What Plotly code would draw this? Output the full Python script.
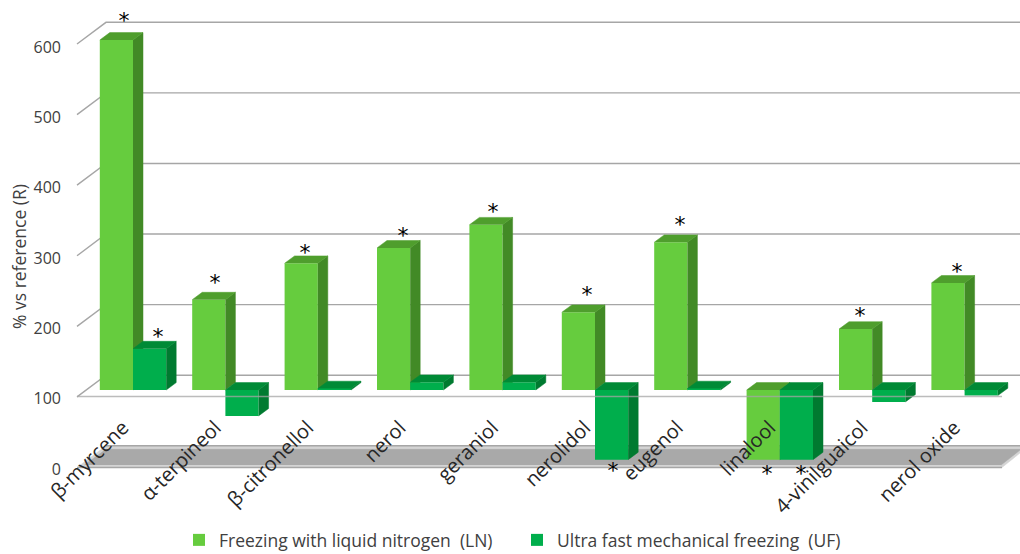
import plotly.graph_objects as go

categories = ["β-myrcene", "α-terpineol", "β-citronellol", "nerol", "geraniol", "nerolidol",
              "eugenol", "linalool", "4-vinilguaicol", "nerol oxide"]
ln_values = [600, 229, 281, 303, 336, 211, 311, 0.5, 187, 253]
uf_values = [159, 63, 102, 111, 111, 0.5, 102, 0.5, 83, 92]

# asterisks
star_px_x = [124, 158, 215, 305, 403, 493, 587, 613, 680, 767, 801, 860, 957]
star_px_y = [17, 333, 279, 249, 232, 208, 291, 467, 221, 470, 470, 312, 268]
y_ticks = [0, 100, 200, 300, 400, 500, 600]

LN_FRONT, LN_SIDE, LN_TOP = "#66cc3e", "#428a26", "#4f9e2d"
UF_FRONT, UF_SIDE, UF_TOP = "#00ae4c", "#007a30", "#008a36"
TEXT = "#404040"
FONT = "Open Sans"

W, H = 1020, 554
FIG_H = H + 8  # slightly taller than the window so the legend does not shrink the plot
PLOT_H = 520
PX_PER_CAT = 92.4
X0_PX = 133
X_RANGE = [-X0_PX / PX_PER_CAT, (W - X0_PX) / PX_PER_CAT]
# front-plane scale used by the bars
BAR_K = 0.70
BAR_RANGE = [100 + (390 - PLOT_H) / BAR_K, 100 + 390 / BAR_K]
# scale of the grid box
GRID_K = 0.7058
GRID_RANGE = [(467.5 - PLOT_H) / GRID_K, 467.5 / GRID_K]
# scale of the printed tick labels
TICK_K = 0.7033
TICK_RANGE = [(469 - PLOT_H) / TICK_K, 469 / TICK_K]

BAR_W = 33.2 / PX_PER_CAT
BAR_DX = 10 / PX_PER_CAT
BAR_DY = 7.4 / BAR_K
WALL_DX = 29 / PX_PER_CAT
WALL_DY = 21.7 / GRID_K
GRID_L = (77 - X0_PX) / PX_PER_CAT
GRID_R = (1002 - X0_PX) / PX_PER_CAT
GRID_FAR = (1060 - X0_PX) / PX_PER_CAT
FLOOR_FAR = (1029 - X0_PX) / PX_PER_CAT
GRID = "#a6a6a6"

fig = go.Figure()


def poly(xs, ys, color, ax):
    fig.add_trace(go.Scatter(x=xs, y=ys, mode="lines", fill="toself", fillcolor=color,
                             line=dict(color=color, width=0.5), hoverinfo="skip",
                             showlegend=False, xaxis="x" + ax, yaxis="y" + ax))


def line(xs, ys, color=GRID, width=1.4):
    fig.add_trace(go.Scatter(x=xs, y=ys, mode="lines", line=dict(color=color, width=width),
                             hoverinfo="skip", showlegend=False, xaxis="x", yaxis="y"))


# floor at zero
poly([GRID_L, GRID_L + WALL_DX, FLOOR_FAR, GRID_R], [0, WALL_DY, WALL_DY, 0], "#d4d4d4", "")
poly([GRID_L + 0.08, GRID_L + WALL_DX, (1021 - X0_PX) / PX_PER_CAT, GRID_R - 0.01],
     [3.5, WALL_DY - 5, WALL_DY - 5, 3.5], "#a9a9a9", "")
line([GRID_L, GRID_R], [0, 0])
line([GRID_L + WALL_DX, GRID_FAR], [WALL_DY, WALL_DY])

# wall grid lines with their left connectors
for t in y_ticks[1:]:
    line([GRID_L, GRID_L + WALL_DX, GRID_FAR], [t, t + WALL_DY, t + WALL_DY])


def bar_set(values, offset, name, front, side, top, ax):
    xs = [i + offset for i in range(len(values))]
    fig.add_trace(go.Bar(x=xs, y=[v - 100 for v in values], base=100, width=BAR_W, name=name,
                         marker=dict(color=front, line=dict(width=0)), xaxis="x" + ax, yaxis="y" + ax))
    for x, v in zip(xs, values):
        r = x + BAR_W / 2
        l = x - BAR_W / 2
        hi = max(v, 100)
        poly([r, r + BAR_DX, r + BAR_DX, r], [100, 100 + BAR_DY, v + BAR_DY, v], side, ax)
        poly([l, l + BAR_DX, r + BAR_DX, r], [hi, hi + BAR_DY, hi + BAR_DY, hi], top, ax)


bar_set(ln_values, -BAR_W / 2, "Freezing with liquid nitrogen\u00a0 (LN)", LN_FRONT, LN_SIDE, LN_TOP, "2")
bar_set(uf_values, BAR_W / 2, "Ultra fast mechanical freezing\u00a0 (UF)", UF_FRONT, UF_SIDE, UF_TOP, "3")

# front line of the 100 floor, visible through the bars
fig.add_trace(go.Scatter(x=[GRID_L, GRID_R], y=[100 - 6.5 / BAR_K] * 2, mode="lines",
                         line=dict(color="rgba(166,166,166,0.75)", width=1.6), hoverinfo="skip",
                         showlegend=False, xaxis="x4", yaxis="y4"))

# asterisks
fig.add_trace(go.Scatter(x=[(p - X0_PX) / PX_PER_CAT for p in star_px_x],
                         y=[100 + (390 - (p + 5)) / BAR_K for p in star_px_y],
                         mode="text", text=["*"] * len(star_px_x), textposition="middle center",
                         textfont=dict(family="DejaVu Sans", size=22, color="#000000"),
                         hoverinfo="skip", showlegend=False, xaxis="x4", yaxis="y5"))

# invisible trace that carries the printed value axis
fig.add_trace(go.Scatter(x=[0] * len(y_ticks), y=y_ticks, mode="markers", marker=dict(opacity=0),
                         hoverinfo="skip", showlegend=False, xaxis="x4", yaxis="y6"))

no_axis = dict(visible=False, domain=[0, 1])
layout = dict(
    width=W, height=FIG_H, margin=dict(l=0, r=0, t=0, b=FIG_H - PLOT_H), paper_bgcolor="white", plot_bgcolor="white",
    barmode="overlay", font=dict(family=FONT, size=15, color=TEXT),
    xaxis=dict(range=X_RANGE, domain=[0, 1], anchor="free", position=1 - 411 / PLOT_H, showgrid=False,
               zeroline=False, showline=False, ticks="", tickmode="array",
               tickvals=[i - 0.11 for i in range(len(categories))], ticktext=categories, tickangle=-45,
               tickfont=dict(family=FONT, size=20, color="#262626")),
    yaxis=dict(no_axis, range=GRID_RANGE),
    legend=dict(orientation="h", x=179 / W, y=1 - 540 / PLOT_H, xanchor="left", yanchor="middle",
                entrywidth=293, entrywidthmode="pixels", font=dict(family=FONT, size=17.5, color=TEXT),
                bgcolor="rgba(0,0,0,0)", traceorder="normal"),
    annotations=[dict(text="% vs reference (R)", xref="paper", yref="paper", x=19 / W, y=1 - 257 / PLOT_H,
                      textangle=-90, showarrow=False, xanchor="center", yanchor="middle",
                      font=dict(family=FONT, size=17.5, color=TEXT))],
)
for n in ("2", "3", "4"):
    layout["xaxis" + n] = dict(no_axis, range=X_RANGE, overlaying="x")
    layout["yaxis" + n] = dict(no_axis, range=BAR_RANGE, overlaying="y")
layout["yaxis5"] = dict(no_axis, range=BAR_RANGE, overlaying="y")
layout["yaxis6"] = dict(range=TICK_RANGE, domain=[0, 1], anchor="free", position=61 / W, overlaying="y",
                        showgrid=False, zeroline=False, showline=False, ticks="", tickmode="array",
                        tickvals=y_ticks, tickfont=dict(family=FONT, size=16, color=TEXT))
fig.update_layout(**layout)

fig.write_html("out.html", config={"displayModeBar": False},
               post_script="document.body.style.margin='0';document.body.style.overflow='hidden';"
                           "document.documentElement.style.overflow='hidden';")
